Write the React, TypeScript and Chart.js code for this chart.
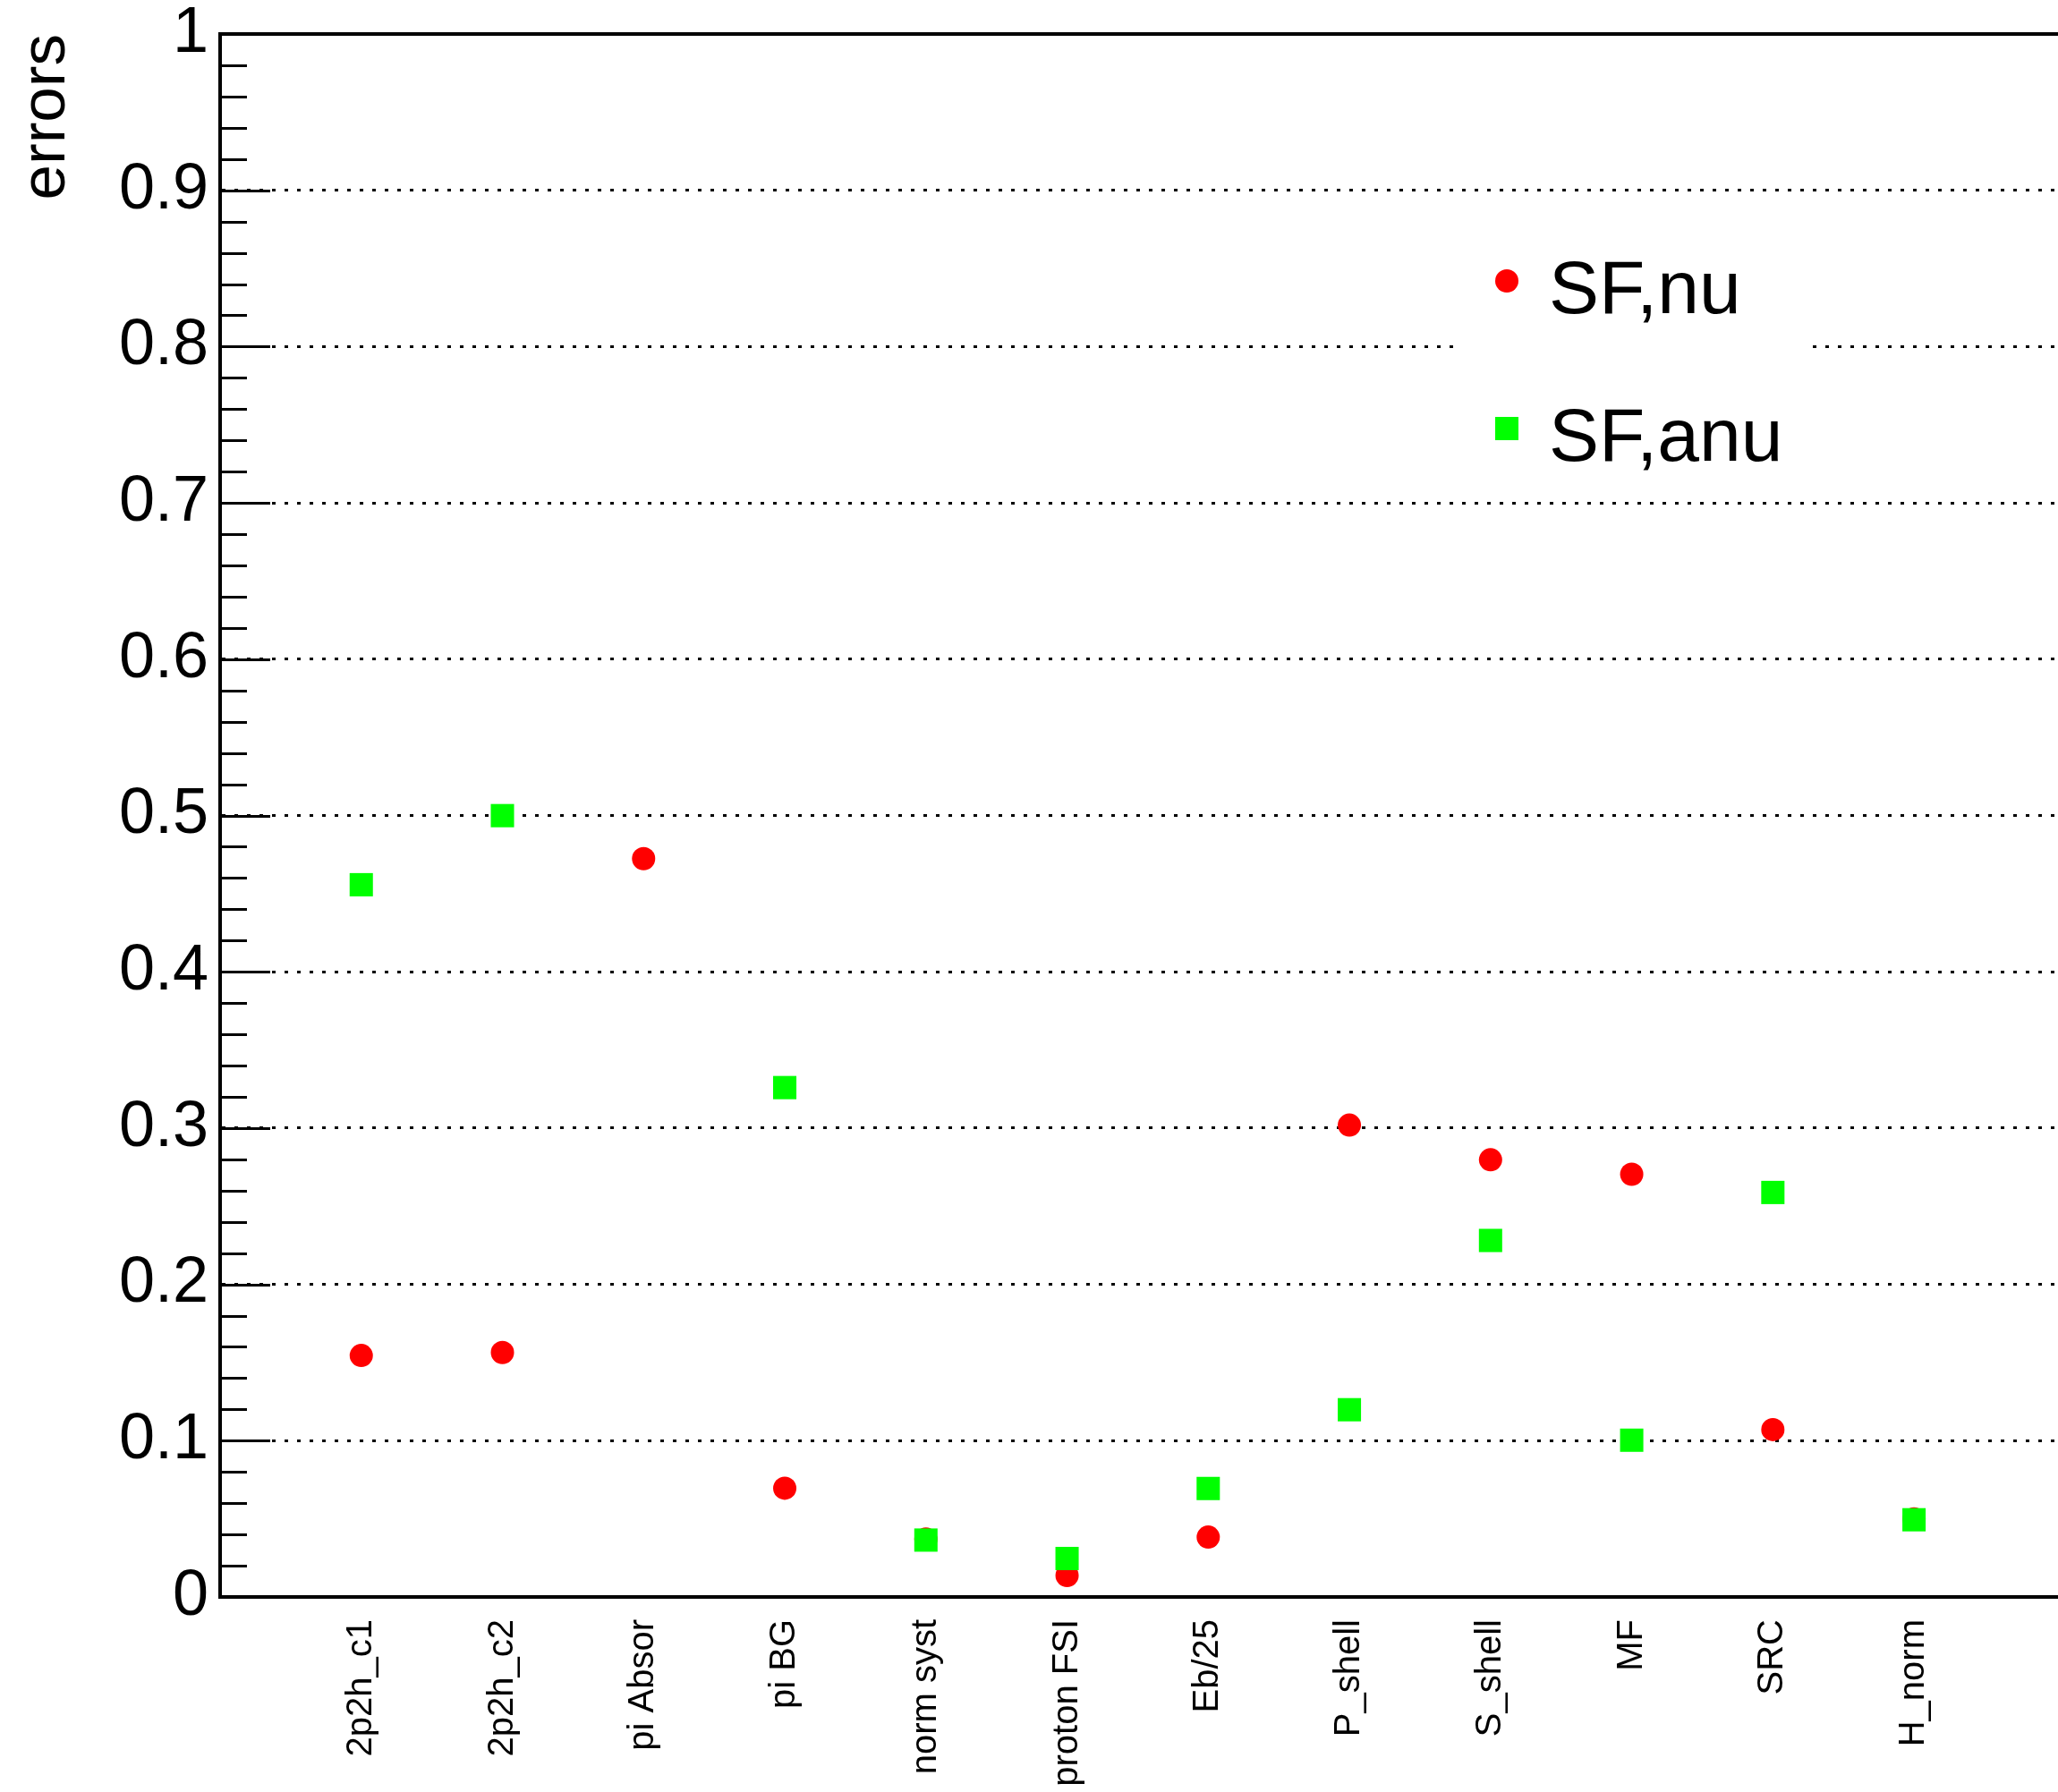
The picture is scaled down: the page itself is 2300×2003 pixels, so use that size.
import React, { useEffect, useRef } from "react";
import { Chart, registerables } from "chart.js";

Chart.register(...registerables);

const categories = [
  "2p2h_c1",
  "2p2h_c2",
  "pi Absor",
  "pi BG",
  "norm syst",
  "proton FSI",
  "Eb/25",
  "P_shell",
  "S_shell",
  "MF",
  "SRC",
  "H_norm",
];

const sfNu = [0.1545, 0.1564, 0.4724, 0.0696, 0.037, 0.0137, 0.0383, 0.3019, 0.2797, 0.2705, 0.1071, 0.050];
const sfAnu = [0.4557, 0.4999, null, 0.3259, 0.0364, 0.0246, 0.0694, 0.1198, 0.2281, 0.1003, 0.2588, 0.0494];

const yTickValues = [0, 0.1, 0.2, 0.3, 0.4, 0.5, 0.6, 0.7, 0.8, 0.9, 1];

const FONT = '"Liberation Sans", Arial, Helvetica, sans-serif';

const W = 2300;
const H = 2003;

const frameAndTicks = {
  id: "frameAndTicks",
  beforeDatasetsDraw(chart: any) {
    const { ctx, chartArea } = chart;
    const y = chart.scales.y;
    ctx.save();
    ctx.strokeStyle = "#000";
    ctx.lineWidth = 3;
    for (let i = 0; i <= 50; i++) {
      const v = i / 50;
      const py = Math.round(y.getPixelForValue(v)) + 0.5;
      const len = i % 5 === 0 ? 56 : 30;
      ctx.beginPath();
      ctx.moveTo(chartArea.left, py);
      ctx.lineTo(chartArea.left + len, py);
      ctx.stroke();
    }
    ctx.lineWidth = 4;
    ctx.beginPath();
    ctx.moveTo(chartArea.left - 2, chartArea.top);
    ctx.lineTo(chartArea.right + 10, chartArea.top);
    ctx.stroke();
    ctx.restore();
  },
};

function ScatterChart() {
  const ref = useRef<HTMLCanvasElement | null>(null);
  useEffect(() => {
    if (!ref.current) return;
    const chart = new Chart(ref.current, {
      type: "scatter",
      data: {
        datasets: [
          {
            label: "SF,nu",
            data: sfNu.map((v, i) => ({ x: i + 1, y: v })),
            pointStyle: "circle",
            pointRadius: 13,
            pointHoverRadius: 13,
            pointBackgroundColor: "#ff0000",
            pointBorderWidth: 0,
            borderColor: "#ff0000",
            backgroundColor: "#ff0000",
            order: 1,
          },
          {
            label: "SF,anu",
            data: sfAnu.map((v, i) => ({ x: i + 1, y: v })),
            pointStyle: "rect",
            pointRadius: 18.4,
            pointHoverRadius: 18.4,
            pointBackgroundColor: "#00ff00",
            pointBorderWidth: 0,
            borderColor: "#00ff00",
            backgroundColor: "#00ff00",
            order: 0,
          },
        ],
      },
      options: {
        responsive: false,
        animation: false,
        devicePixelRatio: 1,
        layout: { autoPadding: false, padding: { top: 38, left: 0, right: 0, bottom: 0 } },
        plugins: {
          legend: { display: false },
          tooltip: { enabled: false },
          title: { display: false },
        },
        scales: {
          x: {
            type: "linear",
            min: 0,
            max: 13.02,
            afterBuildTicks: (scale: any) => {
              scale.ticks = categories.map((_, i) => ({ value: i + 1 }));
            },
            afterFit: (scale: any) => {
              scale.height = 218;
              scale.paddingLeft = 0;
              scale.paddingRight = 0;
              scale.paddingTop = 0;
              scale.paddingBottom = 0;
            },
            grid: { display: false, drawTicks: false },
            border: { display: true, color: "#000", width: 4 },
            ticks: {
              autoSkip: false,
              minRotation: 90,
              maxRotation: 90,
              padding: 25,
              color: "#000",
              font: { family: FONT, size: 40 },
              callback: (v: any) => categories[Math.round(Number(v)) - 1] ?? "",
            },
          },
          y: {
            type: "linear",
            min: 0,
            max: 1,
            afterBuildTicks: (scale: any) => {
              scale.ticks = yTickValues.map((v) => ({ value: v }));
            },
            afterFit: (scale: any) => {
              scale.width = 246;
              scale.paddingLeft = 0;
              scale.paddingRight = 0;
              scale.paddingTop = 0;
              scale.paddingBottom = 0;
            },
            grid: {
              drawTicks: false,
              lineWidth: 3,
              color: (ctx: any) => {
                const v = ctx.tick ? ctx.tick.value : null;
                return v === 0 || v === 1 ? "rgba(0,0,0,0)" : "#000";
              },
            },
            border: { display: true, color: "#000", width: 4, dash: [4, 10] },
            ticks: {
              padding: 13,
              color: "#000",
              font: { family: FONT, size: 72, lineHeight: 1 },
              callback: (v: any) => String(Number(Number(v).toFixed(1))),
            },
            title: {
              display: true,
              text: "errors",
              align: "end",
              color: "#000",
              font: { family: FONT, size: 71, lineHeight: 1.2 },
              padding: { top: 10, bottom: 0 },
            },
          },
        },
      },
      plugins: [frameAndTicks],
    } as any);
    return () => chart.destroy();
  }, []);
  return <canvas ref={ref} width={W} height={H} style={{ width: W, height: H, display: "block" }} />;
}

const legendItems = [
  { label: "SF,nu", color: "#ff0000", shape: "circle", markerY: 314, textTop: 279 },
  { label: "SF,anu", color: "#00ff00", shape: "square", markerY: 479, textTop: 444 },
];

export default function App() {
  return (
    <div style={{ position: "fixed", left: 0, top: 0, width: W, height: H, background: "#fff", overflow: "hidden" }}>
      <ScatterChart />
      <div
        style={{
          position: "absolute",
          left: 1630,
          top: 232,
          width: 394,
          height: 326,
          background: "#fff",
        }}
      />
      {legendItems.map((it) => (
        <React.Fragment key={it.label}>
          <div
            style={{
              position: "absolute",
              left: 1671,
              top: it.markerY - 13,
              width: 26,
              height: 26,
              background: it.color,
              borderRadius: it.shape === "circle" ? "50%" : 0,
            }}
          />
          <div
            style={{
              position: "absolute",
              left: 1731,
              top: it.textTop,
              fontFamily: FONT,
              fontSize: 84,
              lineHeight: "84px",
              color: "#000",
              whiteSpace: "nowrap",
            }}
          >
            {it.label}
          </div>
        </React.Fragment>
      ))}
    </div>
  );
}
